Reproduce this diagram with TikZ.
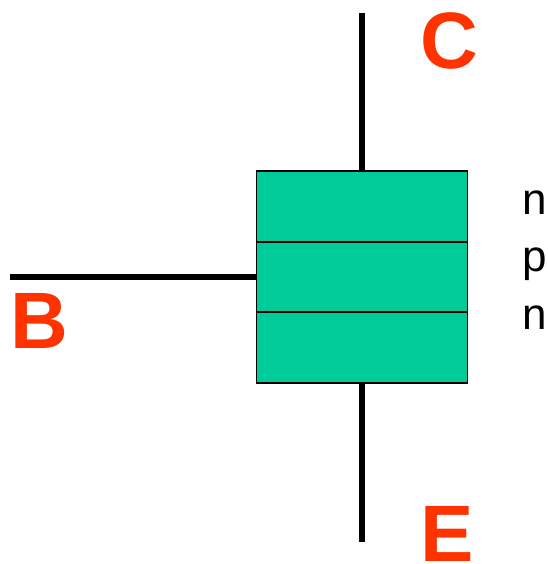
\documentclass[tikz,border=0pt]{standalone}
\usepackage{fontspec}
\setmainfont{Liberation Sans}
\definecolor{lay}{HTML}{00CC99}
\definecolor{lab}{HTML}{FF3300}
\tikzset{
  x=0.75pt,y=-0.75pt,
  layer/.style={draw=black,line width=1.3pt,fill=lay,minimum width=158.25pt,minimum height=52.875pt,inner sep=0pt,outer sep=0pt},
  lead/.style={line width=4.3pt,black},
  term/.style={text=lab,font=\bfseries\fontsize{60}{60}\selectfont,inner sep=0pt},
  kind/.style={text=black,font=\fontsize{33}{33}\selectfont,inner sep=0pt,anchor=base west}
}
\begin{document}
\begin{tikzpicture}
\useasboundingbox (0,0) rectangle (547,564);
\coordinate (ct) at (362,13);
\coordinate (bl) at (10,277);
\coordinate (eb) at (362,542);
\node[layer] (n1) at (362,206.5) {};
\node[layer] (p) at (362,277) {};
\node[layer] (n2) at (362,347.5) {};
\draw[lead] (ct) -- (n1.north);
\draw[lead] (bl) -- (p.west);
\draw[lead] (n2.south) -- (eb);
\node[term] (C) at (449,41) {C};
\node[term] (B) at (39,321) {B};
\node[term] (E) at (447,534) {E};
\node[kind] (t1) at (522,214) {n};
\node[kind] (t2) at (522,271) {p};
\node[kind] (t3) at (522,329) {n};
\end{tikzpicture}
\end{document}
